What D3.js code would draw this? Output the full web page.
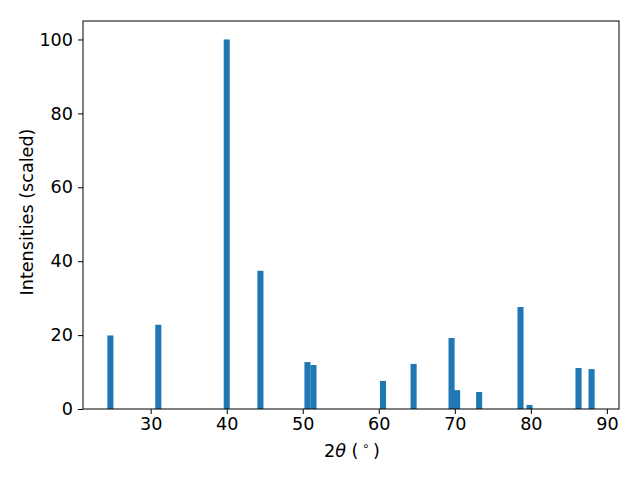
<!DOCTYPE html>
<html><head><meta charset="utf-8">
<script src="https://cdn.jsdelivr.net/npm/d3@7"></script>
<style>body{margin:0;background:#fff}text{font-family:"DejaVu Sans",sans-serif}</style>
</head><body><svg id="c" width="640" height="480"></svg>
<script>
const twoTheta = [24.7, 31.0, 40.0, 44.43, 50.62, 51.41, 60.55, 64.58, 69.57, 70.3, 73.2, 78.64, 79.83, 86.27, 87.99];
const intensity = [19.9, 22.8, 100, 37.4, 12.7, 11.9, 7.6, 12.2, 19.2, 5.1, 4.6, 27.6, 1.1, 11.1, 10.8];
const xTicks = [30, 40, 50, 60, 70, 80, 90];
const yTicks = [0, 20, 40, 60, 80, 100];
const barWidth = 0.8;

const svg = d3.select("#c");
const L = 83, R = 619, T = 21, B = 409;
const lo = d3.min(twoTheta) - barWidth/2, hi = d3.max(twoTheta) + barWidth/2;
const pad = (hi - lo) * 0.05;
const x = d3.scaleLinear().domain([lo - pad, hi + pad]).range([L, R]);
const y = d3.scaleLinear().domain([0, d3.max(intensity) * 1.05]).range([B, T]);

svg.append("g").selectAll("rect").data(twoTheta).join("rect")
  .attr("x", (d) => x(d - barWidth/2))
  .attr("width", (d) => x(d + barWidth/2) - x(d - barWidth/2))
  .attr("y", (d, i) => y(intensity[i]))
  .attr("height", (d, i) => y(0) - y(intensity[i]))
  .attr("fill", "#1f77b4");

const fs = "17.6px";
const xa = svg.append("g").attr("transform", `translate(0,${B})`)
  .call(d3.axisBottom(x).tickValues(xTicks).tickSize(5).tickPadding(4));
const ya = svg.append("g").attr("transform", `translate(${L},0)`)
  .call(d3.axisLeft(y).tickValues(yTicks).tickSize(5).tickPadding(5));
[xa, ya].forEach(a => {
  a.select(".domain").remove();
  a.selectAll("line").attr("stroke", "#000").attr("stroke-width", 1);
  a.selectAll("text").attr("font-size", fs).attr("fill", "#000").style("font-family", "DejaVu Sans");
});

svg.append("rect").attr("x", L).attr("y", T).attr("width", R - L).attr("height", B - T)
  .attr("fill", "none").attr("stroke", "#000").attr("stroke-width", 1);

const xl = svg.append("text").attr("x", 352).attr("y", 457).attr("text-anchor", "middle")
  .attr("font-size", fs);
xl.append("tspan").text("2");
xl.append("tspan").attr("font-style", "italic").text("θ");
xl.append("tspan").text(" (\u2009");
xl.append("tspan").attr("font-size", "12px").attr("dy", -7).text("∘");
xl.append("tspan").attr("dy", 7).text("\u2009)");

svg.append("text").attr("transform", `translate(33,212) rotate(-90)`)
  .attr("text-anchor", "middle").attr("font-size", fs).text("Intensities (scaled)");
</script></body></html>
